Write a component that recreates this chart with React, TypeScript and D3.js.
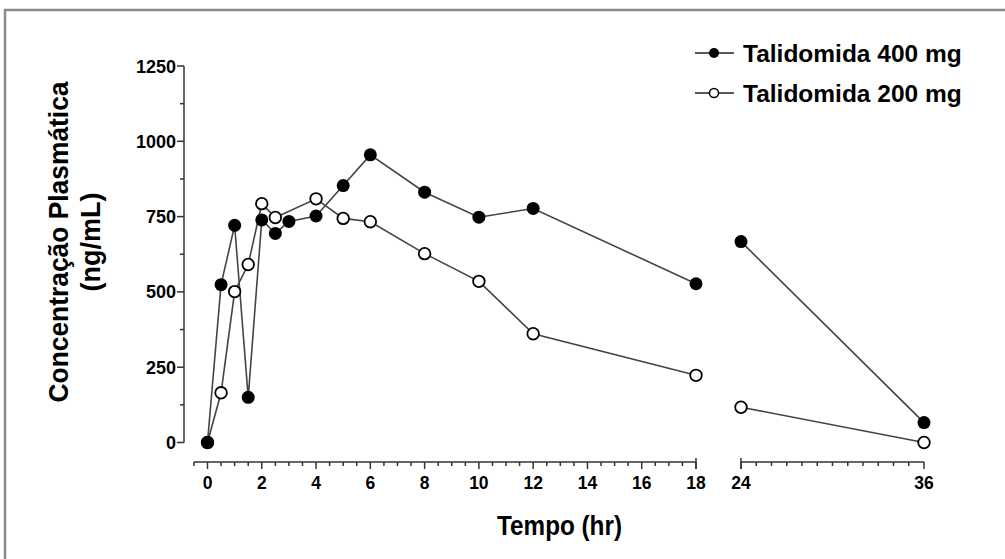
import React, { useEffect, useRef } from 'react';
import * as d3 from 'd3';

// Talidomida - plasma concentration vs time
const times400 = [0, 0.5, 1, 1.5, 2, 2.5, 3, 4, 5, 6, 8, 10, 12, 18, 24, 36];
const conc400 = [0, 524, 721, 150, 739, 694, 734, 752, 853, 955, 831, 748, 777, 527, 667, 66];
const times200 = [0, 0.5, 1, 1.5, 2, 2.5, 4, 5, 6, 8, 10, 12, 18, 24, 36];
const conc200 = [0, 165, 501, 591, 793, 747, 809, 744, 733, 627, 535, 361, 223, 117, 0];

const seriesNames = ['Talidomida 400 mg', 'Talidomida 200 mg'];
const yTicks = [0, 250, 500, 750, 1000, 1250];
const xTicksFirst = [0, 2, 4, 6, 8, 10, 12, 14, 16, 18];
const xTicksSecond = [24, 36];

const width = 1005;
const height = 559;
const font = "'Liberation Sans', Arial, Helvetica, sans-serif";

export default function App() {
  const ref = useRef<SVGSVGElement | null>(null);

  useEffect(() => {
    const svg = d3.select(ref.current);
    svg.selectAll('*').remove();

    const y = d3.scaleLinear().domain([0, 1250]).range([442.5, 66]);
    const x1 = d3.scaleLinear().domain([0, 18]).range([207.5, 696]);
    const x2 = d3.scaleLinear().domain([24, 36]).range([741, 924]);
    const xPos = (t: number) => (t <= 18 ? x1(t) : x2(t));
    const axisY = 462;

    // frame
    svg.append('path')
      .attr('d', `M5,${height} L5,10 L${width},10`)
      .attr('fill', 'none')
      .attr('stroke', '#8a8a8a')
      .attr('stroke-width', 2.5);

    // y axis
    const yAxisX = 184;
    const yAxis = svg.append('g').attr('transform', `translate(${yAxisX},0)`);
    yAxis.append('line')
      .attr('y1', y(1250)).attr('y2', y(0))
      .attr('stroke', '#333').attr('stroke-width', 1.5);
    d3.range(0, 1251, 125).forEach(v => {
      const major = v % 250 === 0;
      yAxis.append('line')
        .attr('x1', major ? -7 : -4).attr('x2', 0)
        .attr('y1', y(v)).attr('y2', y(v))
        .attr('stroke', '#333').attr('stroke-width', 1.5);
    });
    yAxis.selectAll('text.ytick')
      .data(yTicks)
      .enter().append('text')
      .attr('class', 'ytick')
      .attr('x', -8)
      .attr('y', d => y(d) + 6.5)
      .attr('text-anchor', 'end')
      .attr('font-family', font)
      .attr('font-weight', 'bold')
      .attr('font-size', 18)
      .text(d => d);

    // x axis, two segments
    const xAxis = svg.append('g');
    const drawSeg = (sc: d3.ScaleLinear<number, number>, lo: number, hi: number, minorStep: number, majors: number[]) => {
      xAxis.append('line')
        .attr('x1', sc(lo)).attr('x2', sc(hi))
        .attr('y1', axisY).attr('y2', axisY)
        .attr('stroke', '#333').attr('stroke-width', 1.5);
      const start = Math.ceil(lo / minorStep) * minorStep;
      for (let t = start; t <= hi + 1e-6; t += minorStep) {
        const major = majors.indexOf(t) >= 0;
        xAxis.append('line')
          .attr('x1', sc(t)).attr('x2', sc(t))
          .attr('y1', axisY).attr('y2', axisY + (major ? 7 : 4))
          .attr('stroke', '#333').attr('stroke-width', 1.5);
      }
      xAxis.selectAll(null)
        .data(majors)
        .enter().append('text')
        .attr('x', d => sc(d))
        .attr('y', axisY + 27)
        .attr('text-anchor', 'middle')
        .attr('font-family', font)
        .attr('font-weight', 'bold')
        .attr('font-size', 17.5)
        .text(d => d);
    };
    drawSeg(x1, -0.5, 18, 0.5, xTicksFirst);
    drawSeg(x2, 24, 36, 1, xTicksSecond);
    // end caps at the break
    [x1(18), x2(24)].forEach(px => {
      xAxis.append('line')
        .attr('x1', px).attr('x2', px)
        .attr('y1', axisY - 4).attr('y2', axisY + 7)
        .attr('stroke', '#333').attr('stroke-width', 1.5);
    });

    // titles
    svg.append('text')
      .attr('x', 559.5).attr('y', 535)
      .attr('text-anchor', 'middle')
      .attr('font-family', font)
      .attr('font-weight', 'bold')
      .attr('font-size', 28)
      .attr('textLength', 125)
      .attr('lengthAdjust', 'spacingAndGlyphs')
      .text('Tempo (hr)');

    const yTitle = svg.append('g').attr('transform', 'translate(0,242) rotate(-90)');
    yTitle.append('text')
      .attr('x', 0).attr('y', 68)
      .attr('text-anchor', 'middle')
      .attr('font-family', font)
      .attr('font-weight', 'bold')
      .attr('font-size', 27)
      .attr('textLength', 321)
      .attr('lengthAdjust', 'spacingAndGlyphs')
      .text('Concentração Plasmática');
    yTitle.append('text')
      .attr('x', 0).attr('y', 100)
      .attr('text-anchor', 'middle')
      .attr('font-family', font)
      .attr('font-weight', 'bold')
      .attr('font-size', 27)
      .text('(ng/mL)');

    // lines, broken between 18 and 24 hr
    const line = d3.line<[number, number]>()
      .x(d => xPos(d[0]))
      .y(d => y(d[1]));
    const series = [
      { t: times200, c: conc200, filled: false },
      { t: times400, c: conc400, filled: true },
    ];
    series.forEach(s => {
      const pts: [number, number][] = s.t.map((t, i) => [t, s.c[i]]);
      const early = pts.filter(p => p[0] <= 18);
      const late = pts.filter(p => p[0] >= 24);
      [early, late].forEach(seg => {
        svg.append('path')
          .datum(seg)
          .attr('d', line)
          .attr('fill', 'none')
          .attr('stroke', '#444')
          .attr('stroke-width', 1.6);
      });
    });
    series.forEach(s => {
      const pts: [number, number][] = s.t.map((t, i) => [t, s.c[i]]);
      svg.append('g').selectAll('circle')
        .data(pts)
        .enter().append('circle')
        .attr('cx', d => xPos(d[0]))
        .attr('cy', d => y(d[1]))
        .attr('r', s.filled ? 6.5 : 5.8)
        .attr('fill', s.filled ? '#000' : '#fff')
        .attr('stroke', '#000')
        .attr('stroke-width', s.filled ? 0 : 1.8);
    });

    // legend
    const legend = svg.selectAll('.legend')
      .data(seriesNames)
      .enter().append('g')
      .attr('class', 'legend')
      .attr('transform', (d, i) => `translate(0,${53 + i * 40})`);
    legend.append('line')
      .attr('x1', 695).attr('x2', 734)
      .attr('y1', 0).attr('y2', 0)
      .attr('stroke', '#222').attr('stroke-width', 1.5);
    legend.append('circle')
      .attr('cx', 714).attr('cy', 0)
      .attr('r', (d, i) => (i === 0 ? 5 : 4.5))
      .attr('fill', (d, i) => (i === 0 ? '#000' : '#fff'))
      .attr('stroke', '#000')
      .attr('stroke-width', (d, i) => (i === 0 ? 0 : 1.5));
    legend.append('text')
      .attr('x', 743).attr('y', 8.5)
      .attr('font-family', font)
      .attr('font-weight', 'bold')
      .attr('font-size', 24.5)
      .text(d => d);
  }, []);

  return (
    <svg
      ref={ref}
      width={width}
      height={height}
      style={{ position: 'absolute', left: 0, top: 0, background: '#fff' }}
    />
  );
}
